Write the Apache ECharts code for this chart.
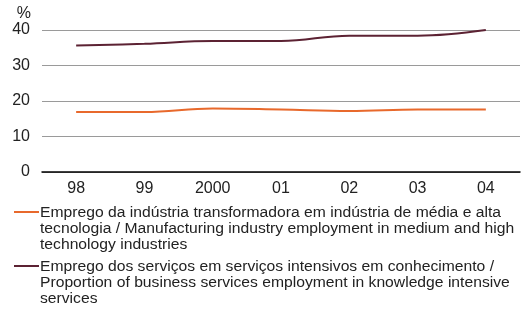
<!DOCTYPE html>
<html><head><meta charset="utf-8">
<script src="https://cdn.jsdelivr.net/npm/echarts@6/dist/echarts.min.js"></script>
<style>html,body{margin:0;padding:0;background:#fff}#c{width:521px;height:310px}</style>
</head><body><div id="c"></div>
<script>
const categories = ['98','99','2000','01','02','03','04'];
const manufacturing = [16.9, 16.9, 17.9, 17.6, 17.2, 17.6, 17.6];
const services = [35.6, 36.1, 36.9, 36.9, 38.4, 38.4, 40.0];
const seriesNames = [
  'Emprego da indústria transformadora em indústria de média e alta\ntecnologia / Manufacturing industry employment in medium and high\ntechnology industries',
  'Emprego dos serviços em serviços intensivos em conhecimento /\nProportion of business services employment in knowledge intensive\nservices'
];
const colors = ['#E8692C', '#5C2233'];
const yTicks = [0, 10, 20, 30, 40];

const font = 'Liberation Sans, Arial, sans-serif';
const chart = echarts.init(document.getElementById('c'), null, {renderer: 'canvas'});
const legendGraphics = [];
const legendTops = [205, 259];
seriesNames.forEach((n, i) => {
  legendGraphics.push({type: 'line', shape: {x1: 14, y1: legendTops[i] + 7, x2: 39, y2: legendTops[i] + 7}, style: {stroke: colors[i], lineWidth: 2}});
  legendGraphics.push({type: 'text', x: 40, y: legendTops[i], scaleX: 1.12, style: {text: n, font: '14px ' + font, fill: '#222', lineHeight: 16}});
});
chart.setOption({
  animation: false,
  grid: {left: 42, right: 1, top: 30, bottom: 138},
  xAxis: {
    type: 'category', data: categories, boundaryGap: true,
    axisLine: {lineStyle: {color: '#000', width: 1.5}},
    axisTick: {show: false},
    axisLabel: {color: '#222', fontSize: 16, fontFamily: font, margin: 9}
  },
  yAxis: {
    type: 'value', min: yTicks[0], max: yTicks[yTicks.length - 1], interval: 10,
    name: '%', nameGap: 8, nameTextStyle: {color: '#222', fontSize: 16, fontFamily: font, align: 'right', padding: [0, 11, 0, 0]},
    axisLine: {show: false}, axisTick: {show: false},
    axisLabel: {color: '#222', fontSize: 16, fontFamily: font, margin: 12},
    splitLine: {lineStyle: {color: '#9a9a9a', width: 1}}
  },
  series: [
    {name: 'm', type: 'line', data: manufacturing, smooth: 0.4, symbol: 'none', lineStyle: {color: colors[0], width: 2}},
    {name: 's', type: 'line', data: services, smooth: 0.4, symbol: 'none', lineStyle: {color: colors[1], width: 2}}
  ],
  graphic: legendGraphics
});
</script></body></html>
